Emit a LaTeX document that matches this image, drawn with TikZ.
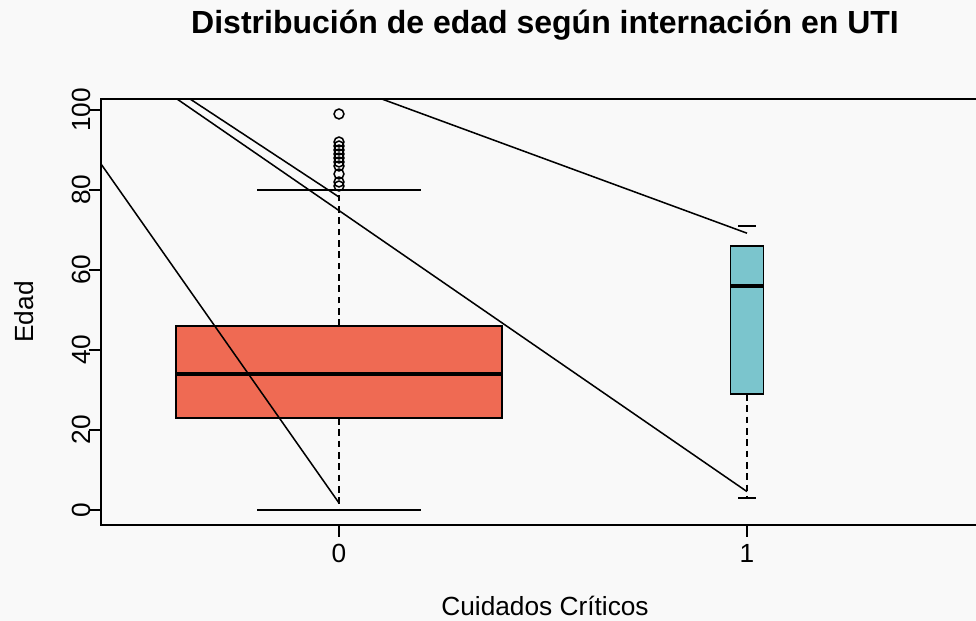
\documentclass[tikz,border=0pt]{standalone}
\usepackage{fontspec}
\setmainfont{Liberation Sans}
\usepackage{tikz}
\usepackage{xcolor}
\usetikzlibrary{
    calc,
    positioning
}
\definecolor{fondo}{HTML}{F9F9F9}
\definecolor{rojo}{HTML}{EF6A53}
\definecolor{celeste}{HTML}{7BC5CD}
\tikzset{
    trazo/.style={line width=1.15pt, black},
    bigote/.style={trazo, dash pattern=on 5pt off 3.5pt},
    mediana/.style={line width=3.5pt, black},
    rotulo/.style={font=\fontsize{19.7}{22}\selectfont, inner sep=0pt}
}

\begin{document}
\begin{tikzpicture}[x=306pt, y=3pt]
                            \fill[fondo] (-0.8309, -27.75) rectangle (1.5613, 127.5);
                            \useasboundingbox (-0.8309, -27.75) rectangle (1.5613, 127.5);
                            \clip (-0.8309, -27.75) rectangle (1.5613, 127.5);
                            \draw[trazo] (1.6, 102.75) -- (-0.5833, 102.75) -- (-0.5833, -3.75) -- (1.6, -3.75);
                            \draw[bigote]
                            (0, 46) -- (0, 80)
                            (0, 23) -- (0, 0)
                            (1, 29) -- (1, 3);
                            \draw[trazo]
                            (-0.2, 80) -- (0.2, 80)
                            (-0.2, 0) -- (0.2, 0)
                            (0.978, 71) -- (1.022, 71)
                            (0.978, 3) -- (1.022, 3);
                            \draw[trazo, fill=rojo] (-0.4, 23) rectangle (0.4, 46);
                            \draw[mediana] (-0.4, 34) -- (0.4, 34);
                            \draw[trazo, fill=celeste] (0.96, 29) rectangle (1.04, 66);
                            \draw[mediana] (0.96, 56) -- (1.04, 56);
                            \foreach \o in {81, 82, 84, 86, 87, 88, 89, 90, 91, 92, 99} {
                                \draw[trazo] (0, \o) circle[radius=3.7pt];
                            }
                            \draw[trazo]
                            (-0.5833, 86.5) -- (0, 1.75)
                            (-0.365, 102.75) -- (0, 78.25)
                            (-0.397, 102.75) -- (1, 4.6)
                            (0.105, 102.75) -- (1, 69.2);
                            \foreach \v in {0, 20, ..., 100} {
                                \draw[trazo] (-0.5833, \v) -- (-0.6127, \v);
                                \node[rotulo, rotate=90, anchor=base] (y\v) at (-0.6086, \v) {\v};
                            }
                            \foreach \t in {0, 1} {
                                \draw[trazo] (\t, -3.75) -- (\t, -6.75);
                                \node[rotulo, anchor=base] (x\t) at (\t, -13.25) {\t};
                            }
                            \node[rotulo, anchor=base] (ejex) at (0.505, -26.5) {Cuidados Críticos};
                            \node[rotulo, rotate=90, anchor=base] (ejey) at (-0.75, 49.5) {Edad};
                            \node[font=\fontsize{24}{28}\selectfont\bfseries, anchor=base, inner sep=0pt] (titulo) at (0.505, 119.1) {Distribución de edad según internación en UTI};
                        \end{tikzpicture}
\end{document}
